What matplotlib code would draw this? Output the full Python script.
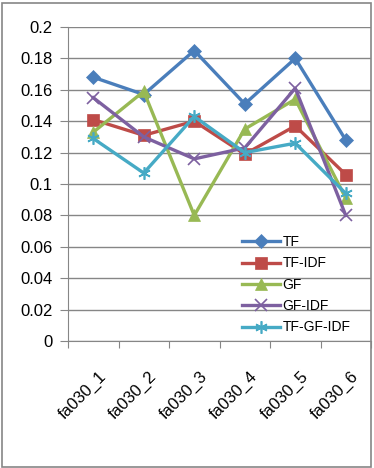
import matplotlib
matplotlib.use("Agg")
import matplotlib.pyplot as plt
from matplotlib.patches import Rectangle

plt.rcParams['font.family'] = ['Liberation Sans Narrow', 'Liberation Sans', 'DejaVu Sans']

categories = ["fa030_1", "fa030_2", "fa030_3", "fa030_4", "fa030_5", "fa030_6"]
tf = [0.168, 0.157, 0.185, 0.151, 0.180, 0.128]
tf_idf = [0.141, 0.131, 0.140, 0.119, 0.137, 0.106]
gf = [0.133, 0.159, 0.080, 0.135, 0.154, 0.091]
gf_idf = [0.155, 0.130, 0.116, 0.123, 0.161, 0.080]
tf_gf_idf = [0.129, 0.107, 0.143, 0.120, 0.126, 0.094]
y_ticks = [0, 0.02, 0.04, 0.06, 0.08, 0.1, 0.12, 0.14, 0.16, 0.18, 0.2]
y_labels = ["0", "0.02", "0.04", "0.06", "0.08", "0.1", "0.12", "0.14", "0.16", "0.18", "0.2"]

W, H = 374, 468
fig = plt.figure(figsize=(W / 100, H / 100), dpi=100)
ax = fig.add_axes([68 / W, 1 - 341 / H, (371 - 68) / W, (341 - 27) / H])

# gray chart border like excel
fig.patches.append(Rectangle((1.5 / W, 1.5 / H), (371 - 1.5) / W, (466 - 2) / H,
                             transform=fig.transFigure, fill=False,
                             edgecolor="#868686", linewidth=1.2))

x = list(range(len(categories)))
series = [
    ("TF", tf, "#4A7EBB", "D", 7),
    ("TF-IDF", tf_idf, "#BE4B48", "s", 8.5),
    ("GF", gf, "#98B954", "^", 9),
    ("GF-IDF", gf_idf, "#7D60A0", "x", 8),
    ("TF-GF-IDF", tf_gf_idf, "#46AAC5", (6, 2, 0), 9),
]
for name, vals, col, mk, ms in series:
    ax.plot(x, vals, color=col, linewidth=2.4, marker=mk, markersize=ms,
            markeredgewidth=1.2 if mk in ("x", (6, 2, 0)) else 0.5,
            markeredgecolor=col, markerfacecolor=col, label=name, zorder=3)

ax.set_xlim(-0.5, len(categories) - 0.5)
ax.set_ylim(0, 0.2)
ax.set_yticks(y_ticks)
ax.set_yticklabels(y_labels, fontsize=12)
ax.yaxis.grid(True, color="#868686", linewidth=1)
ax.set_axisbelow(True)

ax.set_xticks([i - 0.5 for i in range(len(categories) + 1)])
ax.set_xticklabels([])
# labels sit a bit right of the category centre
ax.set_xticks([i + 0.1 for i in x], minor=True)
ax.set_xticklabels(categories, minor=True, rotation=45, ha="right",
                   rotation_mode="anchor", fontsize=12)
ax.tick_params(axis="x", which="minor", length=0, pad=20)
ax.tick_params(axis="x", which="major", length=5, color="#868686")
ax.tick_params(axis="y", length=6, color="#868686", pad=5)

for s in ["top", "right"]:
    ax.spines[s].set_visible(False)
ax.spines["left"].set_color("#868686")
ax.spines["bottom"].set_color("#868686")

leg = ax.legend(loc="upper left", bbox_to_anchor=(242 / W, 1 - 235 / H),
                bbox_transform=fig.transFigure, frameon=False, fontsize=10,
                handlelength=2.75, handletextpad=0.15, labelspacing=0.53,
                borderpad=0, borderaxespad=0)

fig.savefig("out.png", dpi=100)
